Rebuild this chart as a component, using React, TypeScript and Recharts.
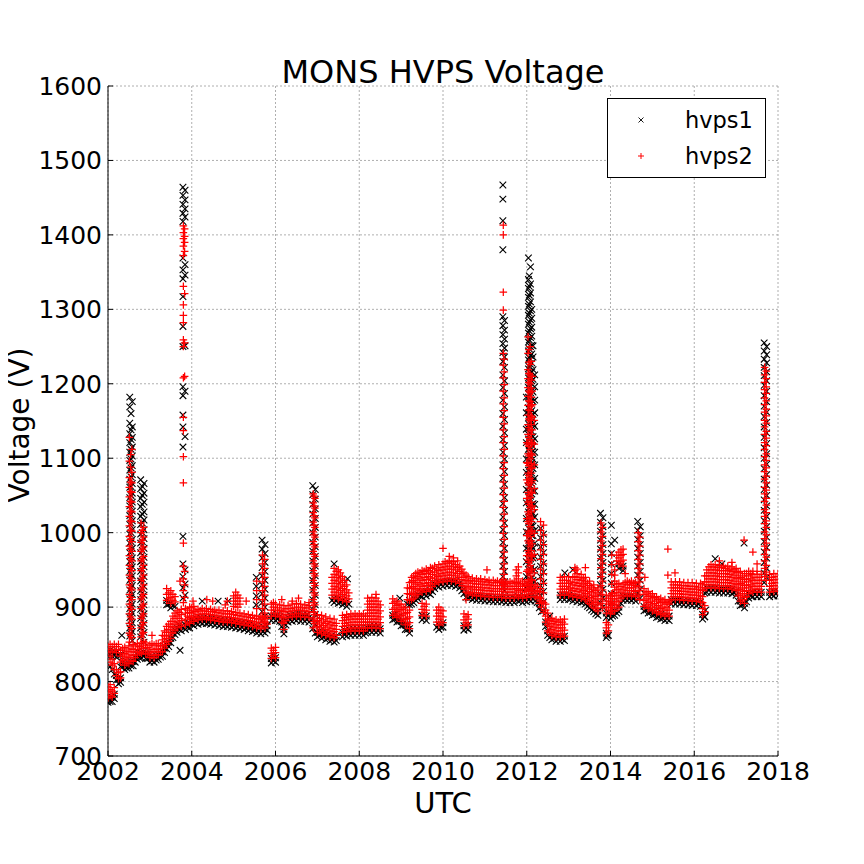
import React from 'react';
import { ScatterChart, Scatter, XAxis, YAxis, CartesianGrid, Legend } from 'recharts';

const FONT = 'DejaVu Sans';

const xTicks = [2002, 2004, 2006, 2008, 2010, 2012, 2014, 2016, 2018];
const yTicks = [700, 800, 900, 1000, 1100, 1200, 1300, 1400, 1500, 1600];

// rows: [time (decimal year), voltage, voltage, ...]
const hvps1Band: number[][] = [
  [2002.0, 772, 778, 834, 840], [2002.05, 773, 779, 820, 836, 842], [2002.1, 773, 779, 816, 834, 840],
  [2002.15, 777, 783, 810, 835], [2002.2, 802, 808, 833, 839], [2002.25, 797, 803, 835], [2002.3, 799, 805, 820, 835],
  [2002.35, 820, 826], [2002.4, 816, 822], [2002.45, 818, 824], [2002.5, 818, 824], [2002.55, 821, 827],
  [2002.6, 821, 827], [2002.65, 826, 832], [2002.7, 830, 836], [2002.75, 832, 838], [2002.8, 832, 838],
  [2002.85, 834, 840], [2002.9, 831, 837], [2002.95, 831, 837], [2003.0, 826, 832], [2003.05, 828, 834],
  [2003.1, 826, 832], [2003.15, 829, 835], [2003.2, 830, 836], [2003.25, 833, 839], [2003.3, 834, 840],
  [2003.35, 839, 845], [2003.4, 844, 850, 903, 909], [2003.45, 847, 853, 904], [2003.5, 852, 858, 899, 905],
  [2003.55, 859, 865, 902], [2003.6, 863, 869, 901], [2003.65, 866, 872], [2003.7, 870, 876], [2003.75, 868, 874],
  [2003.85, 870, 876], [2003.9, 873, 879], [2003.95, 872, 878], [2004.0, 877, 883], [2004.05, 875, 881],
  [2004.1, 879, 885], [2004.15, 877, 883], [2004.2, 880, 886], [2004.25, 878, 884], [2004.3, 880, 886],
  [2004.35, 878, 884], [2004.4, 879, 885], [2004.45, 877, 883], [2004.5, 879, 885], [2004.55, 876, 882],
  [2004.6, 878, 884], [2004.65, 875, 881], [2004.7, 877, 883], [2004.75, 874, 880], [2004.8, 876, 882],
  [2004.85, 874, 880], [2004.9, 876, 882], [2004.95, 873, 879], [2005.0, 875, 881], [2005.05, 872, 878],
  [2005.1, 874, 880], [2005.15, 871, 877], [2005.2, 873, 879], [2005.25, 870, 876], [2005.3, 872, 878],
  [2005.35, 868, 874], [2005.4, 871, 877], [2005.45, 867, 873], [2005.5, 869, 875], [2005.55, 865, 871],
  [2005.6, 867, 873], [2005.65, 864, 870], [2005.7, 867, 873], [2005.75, 865, 871], [2005.8, 869, 875],
  [2005.9, 825, 831, 882, 888], [2005.95, 828, 834, 885], [2006.0, 826, 832, 882, 888], [2006.05, 884, 890],
  [2006.1, 881, 887], [2006.15, 874, 880], [2006.2, 864, 870], [2006.25, 876, 882], [2006.3, 880, 886],
  [2006.35, 883, 889], [2006.4, 881, 887], [2006.45, 884, 890], [2006.5, 882, 888], [2006.55, 885, 891],
  [2006.6, 881, 887], [2006.65, 884, 890], [2006.7, 881, 887], [2006.75, 884, 890], [2006.8, 880, 886],
  [2007.0, 860, 866], [2007.05, 862, 868], [2007.1, 858, 864], [2007.15, 860, 866], [2007.2, 856, 862],
  [2007.25, 858, 864], [2007.3, 854, 860], [2007.35, 856, 862, 909], [2007.4, 853, 859, 906, 912],
  [2007.45, 855, 861, 909], [2007.5, 905, 911], [2007.55, 907], [2007.6, 860, 866, 903, 909],
  [2007.65, 863, 869, 905], [2007.7, 861, 867, 901, 907], [2007.75, 864, 870, 904], [2007.8, 862, 868],
  [2007.85, 865, 871], [2007.9, 862, 868], [2007.95, 865, 871], [2008.0, 862, 868], [2008.05, 865, 871],
  [2008.1, 862, 868], [2008.15, 865, 871], [2008.2, 866, 872], [2008.25, 869, 875], [2008.3, 866, 872],
  [2008.35, 869, 875], [2008.4, 866, 872], [2008.45, 869, 875], [2008.5, 865, 871], [2008.8, 883, 889],
  [2008.85, 884, 890], [2008.9, 880, 886], [2008.95, 881, 887], [2009.0, 875, 881], [2009.05, 876, 882],
  [2009.1, 870, 876], [2009.15, 870, 876, 904], [2009.2, 865, 871, 903, 909], [2009.25, 904], [2009.3, 906, 912],
  [2009.35, 909], [2009.4, 911, 917], [2009.45, 915], [2009.5, 883, 889, 914, 920], [2009.55, 886, 918],
  [2009.6, 882, 888, 915, 921], [2009.65, 919], [2009.7, 917, 923], [2009.75, 921], [2009.8, 925, 931],
  [2009.85, 873, 929], [2009.9, 870, 876, 927, 933], [2009.95, 873, 931], [2010.0, 873, 879, 928, 934],
  [2010.05, 931], [2010.1, 929, 935], [2010.15, 932], [2010.2, 929, 935], [2010.25, 931], [2010.3, 928, 934],
  [2010.35, 930], [2010.4, 926, 932], [2010.45, 922], [2010.5, 869, 875, 918, 924], [2010.55, 872, 913],
  [2010.6, 870, 876, 912, 918], [2010.65, 913], [2010.7, 910, 916], [2010.75, 912], [2010.8, 909, 915],
  [2010.85, 912], [2010.9, 909, 915], [2010.95, 911], [2011.0, 908, 914], [2011.05, 911], [2011.1, 908, 914],
  [2011.15, 910], [2011.2, 907, 913], [2011.25, 910], [2011.3, 907, 913], [2011.35, 910], [2011.4, 907, 913],
  [2011.45, 909], [2011.5, 906, 912], [2011.55, 909], [2011.6, 906, 912], [2011.65, 909], [2011.7, 906, 912],
  [2011.75, 910], [2011.8, 908, 914], [2011.85, 909], [2011.9, 906, 912], [2011.95, 909], [2012.0, 907, 913],
  [2012.05, 910], [2012.1, 908, 914], [2012.15, 911], [2012.2, 908, 914], [2012.25, 906], [2012.3, 899, 905],
  [2012.35, 894], [2012.45, 874, 880], [2012.5, 862, 868], [2012.55, 859], [2012.6, 856, 862], [2012.65, 858],
  [2012.7, 854, 860], [2012.75, 857], [2012.8, 854, 860, 910, 916], [2012.85, 857, 913], [2012.9, 855, 861, 910, 916],
  [2012.95, 913], [2013.0, 910, 916], [2013.05, 911], [2013.1, 908, 914], [2013.15, 910], [2013.2, 907, 913],
  [2013.25, 909], [2013.3, 906, 912], [2013.35, 907], [2013.4, 904, 910], [2013.45, 901], [2013.5, 899, 905],
  [2013.55, 896], [2013.6, 894, 900], [2013.65, 891], [2013.7, 889, 895], [2013.9, 859, 865, 886, 892],
  [2013.95, 862, 889], [2014.0, 885, 891], [2014.05, 888], [2014.1, 889, 895], [2014.15, 892],
  [2014.2, 894, 900, 952, 958], [2014.25, 905, 955], [2014.3, 909, 915, 949, 955], [2014.35, 911],
  [2014.4, 909, 915], [2014.45, 911], [2014.5, 909, 915], [2014.55, 911], [2014.6, 908, 914], [2014.8, 895, 901],
  [2014.85, 896], [2014.9, 892, 898], [2014.95, 893], [2015.0, 889, 895], [2015.05, 890], [2015.1, 886, 892],
  [2015.15, 887], [2015.2, 884, 890], [2015.25, 885], [2015.3, 882, 888], [2015.35, 884], [2015.4, 882, 888],
  [2015.45, 904, 910], [2015.5, 907], [2015.55, 904, 910], [2015.6, 907], [2015.65, 904, 910], [2015.7, 906],
  [2015.75, 903, 909], [2015.8, 906], [2015.85, 903, 909], [2015.9, 905], [2015.95, 902, 908], [2016.0, 905],
  [2016.05, 902, 908], [2016.1, 904], [2016.15, 901, 907], [2016.2, 884, 890], [2016.25, 887, 919],
  [2016.3, 920, 926], [2016.35, 923], [2016.4, 920, 926], [2016.45, 923], [2016.5, 920, 926], [2016.55, 922],
  [2016.6, 919, 925], [2016.65, 922], [2016.7, 919, 925], [2016.75, 922], [2016.8, 919, 925], [2016.85, 921],
  [2016.9, 918, 924], [2016.95, 920], [2017.0, 916, 922], [2017.05, 908], [2017.1, 902, 908], [2017.15, 903],
  [2017.2, 899, 905], [2017.25, 907], [2017.3, 912, 918], [2017.35, 915], [2017.4, 914, 920], [2017.45, 917],
  [2017.5, 914, 920], [2017.55, 917], [2017.6, 914, 920], [2017.8, 914, 920], [2017.85, 917], [2017.9, 915, 921],
  [2017.95, 918], [2018.0, 915, 921],
];

const hvps1Spikes: number[][] = [
  [2002.52, 1182, 1169, 1147, 1133, 1121, 1108, 1097, 1084, 1072, 1061, 1047, 1036, 1023, 1011, 998, 986, 973, 961, 948, 936, 923, 911, 898, 886, 872, 861],
  [2002.55, 1160, 1138, 1125, 1112, 1099, 1087, 1075, 1062, 1050, 1038, 1025, 1013, 1000, 988, 975, 963, 951, 938, 926, 913, 901, 888, 876, 864],
  [2002.58, 1176, 1142, 1128, 1115, 1103, 1090, 1078, 1066, 1053, 1041, 1029, 1016, 1004, 991, 979, 966, 954, 942, 929, 917, 904, 892, 879, 867, 855],
  [2002.78, 1071, 1059, 1046, 1035, 1022, 1011, 998, 986, 973, 961, 948, 935, 922, 910, 897, 885, 872, 860],
  [2002.82, 1062, 1050, 1038, 1025, 1013, 1000, 988, 976, 963, 951, 938, 925, 913, 900, 888, 875, 863],
  [2002.86, 1066, 1053, 1041, 1028, 1017, 1004, 992, 979, 967, 954, 941, 928, 916, 903, 891, 878, 866, 853],
  [2003.79, 1464, 1453, 1441, 1429, 1418, 1369, 1353, 1341, 1317, 1277, 1250, 1196, 1184, 1158, 1142, 1115, 995, 958, 941, 926, 912],
  [2003.84, 1460, 1447, 1435, 1424, 1360, 1346, 1251, 1190, 1129, 950, 931, 916],
  [2005.54, 940, 928, 915, 903],
  [2005.68, 990, 978, 966, 953, 942, 930, 918, 906, 894, 882],
  [2005.75, 984, 972, 960, 948, 936, 924, 912, 900, 888, 876],
  [2006.89, 1063, 1051, 1038, 1025, 1013, 1000, 987, 975, 962, 949, 936, 923, 910, 897, 884, 871],
  [2006.95, 1058, 1045, 1032, 1019, 1007, 994, 981, 968, 955, 942, 929, 916, 903, 890, 877, 865],
  [2011.43, 1467, 1448, 1419, 1380, 1290, 1278, 1266, 1254, 1242, 1230, 1212, 1195, 1178, 1160, 1143, 1125, 1108, 1091, 1073, 1056, 1039, 1021, 1004, 987, 971, 955, 941, 928],
  [2011.47, 1285, 1272, 1260, 1248, 1236, 1222, 1204, 1187, 1169, 1152, 1134, 1117, 1099, 1082, 1065, 1047, 1030, 1013, 996, 979, 963, 948, 934, 922],
  [2011.99, 1182, 1161, 1139, 1121, 1099, 1081, 1058, 1040, 1019, 1001, 979, 961, 941, 926],
  [2012.04, 1369, 1340, 1328, 1316, 1304, 1292, 1280, 1268, 1256, 1244, 1232, 1220, 1208, 1195, 1182, 1168, 1154, 1140, 1126, 1112, 1098, 1084, 1070, 1056, 1042, 1028, 1014, 1000, 986, 972, 958, 944, 930],
  [2012.06, 1345, 1331, 1319, 1307, 1295, 1283, 1271, 1259, 1247, 1235, 1223, 1211, 1199, 1186, 1173, 1159, 1145, 1131, 1117, 1103, 1089, 1075, 1061, 1047, 1033, 1019, 1005, 991, 977, 963, 949, 935],
  [2012.09, 1357, 1334, 1322, 1310, 1298, 1286, 1274, 1262, 1250, 1238, 1226, 1214, 1201, 1188, 1175, 1161, 1147, 1133, 1119, 1105, 1091, 1077, 1063, 1049, 1035, 1021, 1007, 993, 979, 965, 951, 937, 925],
  [2012.12, 1300, 1288, 1276, 1264, 1252, 1240, 1228, 1216, 1204, 1191, 1178, 1164, 1150, 1136, 1122, 1108, 1094, 1080, 1066, 1052, 1038, 1024, 1010, 996, 982, 968, 954, 940, 927],
  [2012.15, 1251, 1236, 1219, 1206, 1189, 1176, 1159, 1146, 1129, 1116, 1099, 1086, 1069, 1056, 1039, 1026, 1009, 996, 979, 966, 949, 936, 922],
  [2012.19, 1212, 1196, 1178, 1161, 1143, 1126, 1108, 1091, 1073, 1056, 1038, 1021, 1003, 986, 968, 951, 934],
  [2012.33, 1006, 993, 981, 967, 955, 941, 929, 915, 903],
  [2012.4, 998, 985, 973, 959, 947, 933, 921, 907, 895],
  [2013.76, 1026, 1014, 1002, 990, 978, 966, 954, 942, 930, 918, 906],
  [2013.82, 1020, 1008, 996, 984, 972, 960, 948, 936, 924, 912, 900],
  [2014.02, 1010, 985, 972, 958, 945, 932, 918, 905],
  [2014.65, 1015, 1003, 991, 979, 967, 955, 943, 931, 919],
  [2014.71, 1008, 996, 984, 972, 960, 948, 936, 924, 912],
  [2017.67, 1255, 1244, 1233, 1222, 1211, 1198, 1184, 1170, 1156, 1142, 1128, 1114, 1100, 1086, 1072, 1058, 1044, 1030, 1016, 1002, 988, 974, 960, 946, 933],
  [2017.73, 1250, 1239, 1228, 1216, 1204, 1190, 1176, 1162, 1148, 1134, 1120, 1106, 1092, 1078, 1064, 1050, 1036, 1022, 1008, 994, 980, 966, 952, 940],
];

const hvps1Outliers: number[][] = [
  [2002.33, 862], [2003.72, 842], [2004.25, 908], [2004.63, 908], [2004.87, 908], [2007.4, 958],
  [2007.72, 938], [2008.97, 912], [2012.55, 888], [2012.91, 946], [2013.1, 950], [2013.92, 862],
  [2016.25, 887], [2016.27, 896], [2016.5, 965], [2016.66, 958], [2017.19, 986], [2014.1, 990],
];

const hvps2Band: number[][] = [
  [2002.0, 778, 786, 793, 840, 847], [2002.05, 781, 789, 796, 826, 834, 843, 850], [2002.1, 779, 787, 822, 830, 840, 847],
  [2002.15, 784, 792, 816, 824, 843, 850], [2002.2, 808, 816, 839, 847], [2002.25, 804, 812, 842, 850],
  [2002.3, 805, 813, 826, 834, 842], [2002.35, 828, 836, 844], [2002.4, 822, 830, 838, 846], [2002.45, 825, 833, 841],
  [2002.5, 824, 832, 840, 848], [2002.55, 828, 836, 844], [2002.6, 827, 835, 843, 850], [2002.65, 832, 840, 848],
  [2002.7, 836, 843, 851], [2002.75, 839, 847], [2002.8, 838, 845, 852], [2002.85, 841, 849], [2002.9, 837, 845, 852],
  [2002.95, 838, 846], [2003.0, 832, 840, 849], [2003.05, 835, 843, 851], [2003.1, 832, 840, 849], [2003.15, 836, 844, 851],
  [2003.2, 836, 843, 851], [2003.25, 840, 848], [2003.3, 840, 848, 856, 862], [2003.35, 845, 853, 861, 868],
  [2003.4, 850, 858, 866, 874, 909, 917, 925], [2003.45, 854, 862, 870, 877, 911, 919], [2003.5, 858, 866, 874, 881, 905, 913, 922],
  [2003.55, 865, 873, 881, 888, 909, 917], [2003.6, 869, 877, 885, 892, 907, 914], [2003.65, 872, 880, 888, 895],
  [2003.7, 877, 885, 893], [2003.75, 874, 882, 890, 897], [2003.85, 876, 884, 892, 898], [2003.9, 880, 888, 896],
  [2003.95, 878, 886, 893, 900], [2004.0, 884, 892, 899], [2004.05, 881, 888, 895, 901], [2004.1, 886, 894],
  [2004.15, 883, 890, 897], [2004.2, 887, 895], [2004.25, 884, 891, 898], [2004.3, 887, 895], [2004.35, 884, 891, 898],
  [2004.4, 886, 894], [2004.45, 883, 890, 897], [2004.5, 886, 894], [2004.55, 882, 889, 896], [2004.6, 885, 893],
  [2004.65, 881, 888, 896], [2004.7, 884, 892], [2004.75, 880, 887, 895], [2004.8, 883, 891, 903],
  [2004.85, 880, 887, 895, 908], [2004.9, 883, 891], [2004.95, 879, 886, 894], [2005.0, 882, 890, 901, 908, 915],
  [2005.05, 878, 885, 893, 904, 912, 920], [2005.1, 881, 889, 900, 908, 916], [2005.15, 877, 884, 892, 904, 912],
  [2005.2, 880, 888], [2005.25, 876, 883, 891], [2005.3, 879, 887], [2005.35, 875, 882, 890], [2005.4, 878, 886],
  [2005.45, 874, 881, 889], [2005.5, 877, 885], [2005.55, 872, 880, 888], [2005.6, 875, 884], [2005.65, 871, 879, 888],
  [2005.7, 875, 883], [2005.75, 872, 880, 888], [2005.8, 877, 885], [2005.9, 831, 838, 845, 888, 896, 904],
  [2005.95, 835, 842, 892, 900], [2006.0, 832, 839, 846, 888, 896, 904], [2006.05, 891, 899], [2006.1, 887, 895, 903],
  [2006.15, 880, 888, 896], [2006.2, 870, 878, 886, 894, 902], [2006.25, 882, 890, 898], [2006.3, 886, 894, 902],
  [2006.35, 890, 898], [2006.4, 887, 895, 904], [2006.45, 891, 899], [2006.5, 888, 896, 905], [2006.55, 892, 900],
  [2006.6, 887, 896, 904], [2006.65, 891, 899], [2006.7, 887, 895, 903], [2006.75, 891, 899], [2006.8, 886, 894, 902],
  [2007.0, 866, 874, 882, 890], [2007.05, 869, 877, 885], [2007.1, 864, 872, 880, 889], [2007.15, 867, 875, 883],
  [2007.2, 862, 870, 878, 887], [2007.25, 865, 873, 881], [2007.3, 860, 868, 876, 885],
  [2007.35, 863, 871, 879, 916, 924, 932, 940], [2007.4, 859, 867, 875, 884, 912, 920, 928, 936, 944, 952],
  [2007.45, 862, 870, 878, 916, 924, 932, 940, 948], [2007.5, 911, 919, 927, 935, 943, 950], [2007.55, 914, 922, 930, 938, 946],
  [2007.6, 866, 874, 882, 889, 909, 917, 925, 933, 941], [2007.65, 870, 878, 886, 912, 920, 928, 936],
  [2007.7, 867, 875, 883, 890, 907, 915, 923, 930], [2007.75, 871, 879, 887, 911, 919], [2007.8, 868, 876, 884, 891],
  [2007.85, 872, 880, 888], [2007.9, 868, 876, 884, 891], [2007.95, 872, 880, 888], [2008.0, 868, 876, 884, 891],
  [2008.05, 872, 880, 888], [2008.1, 868, 876, 884, 891], [2008.15, 872, 880, 888], [2008.2, 872, 880, 888, 896, 904, 912],
  [2008.25, 876, 884, 892, 900, 908], [2008.3, 872, 880, 888, 896, 904, 913], [2008.35, 876, 884, 892, 900, 908],
  [2008.4, 872, 880, 888, 896, 904, 912], [2008.45, 876, 884, 892, 900, 908], [2008.5, 871, 879, 887, 895, 903],
  [2008.8, 889, 897, 905, 911], [2008.85, 891, 899, 907], [2008.9, 886, 894, 902, 908], [2008.95, 888, 896, 904],
  [2009.0, 881, 889, 897, 904], [2009.05, 883, 891, 899], [2009.1, 876, 884, 892, 900], [2009.15, 877, 885, 893, 910, 918, 926],
  [2009.2, 871, 879, 887, 896, 909, 917, 925, 933], [2009.25, 910, 918, 926, 934, 940], [2009.3, 912, 920, 928, 936, 942],
  [2009.35, 915, 923, 931, 939, 945], [2009.4, 917, 925, 933, 941, 947], [2009.45, 922, 930, 938, 946],
  [2009.5, 889, 897, 905, 920, 928, 936, 944, 949], [2009.55, 893, 901, 924, 932, 940, 948],
  [2009.6, 888, 896, 904, 921, 929, 937, 945, 951], [2009.65, 925, 933, 941, 949], [2009.7, 923, 931, 939, 947, 953],
  [2009.75, 928, 936, 944, 952], [2009.8, 931, 939, 947, 955], [2009.85, 880, 888, 896, 935, 943, 951],
  [2009.9, 876, 884, 892, 900, 933, 941, 949, 957], [2009.95, 880, 888, 896, 937, 945, 953],
  [2010.0, 879, 887, 895, 934, 942, 950, 958], [2010.05, 938, 946, 954, 961], [2010.1, 935, 943, 951, 959],
  [2010.15, 939, 947, 955, 962], [2010.2, 935, 943, 951, 959], [2010.25, 938, 946, 954, 961], [2010.3, 934, 942, 950, 957],
  [2010.35, 937, 945, 953], [2010.4, 932, 940, 948, 955], [2010.45, 929, 937, 945, 951], [2010.5, 875, 883, 891, 924, 932, 940, 946],
  [2010.55, 879, 887, 920, 928, 936, 943], [2010.6, 876, 884, 890, 918, 926, 934, 941], [2010.65, 920, 928, 936],
  [2010.7, 916, 924, 932, 939], [2010.75, 919, 927, 935], [2010.8, 915, 923, 931, 938], [2010.85, 919, 927, 935],
  [2010.9, 915, 923, 931, 938], [2010.95, 918, 926, 934], [2011.0, 914, 922, 930, 937], [2011.05, 918, 926, 934],
  [2011.1, 914, 922, 930, 936], [2011.15, 917, 925, 933], [2011.2, 913, 921, 929, 936], [2011.25, 917, 925, 933],
  [2011.3, 913, 921, 929, 935], [2011.35, 917, 925, 933], [2011.4, 913, 921, 929, 935], [2011.45, 916, 924, 932],
  [2011.5, 912, 920, 928, 934], [2011.55, 916, 924, 932], [2011.6, 912, 920, 928, 934], [2011.65, 916, 924, 932],
  [2011.7, 912, 920, 928, 935], [2011.75, 917, 925, 933, 942, 950], [2011.8, 914, 922, 930, 938, 946, 954],
  [2011.85, 916, 924, 932], [2011.9, 912, 920, 928, 935], [2011.95, 916, 924, 932], [2012.0, 913, 921, 929],
  [2012.05, 917, 925], [2012.1, 914, 922, 930], [2012.15, 918, 926], [2012.2, 914, 922, 930], [2012.25, 912, 920, 928],
  [2012.3, 905, 913, 921], [2012.35, 900, 908], [2012.45, 880, 888, 896, 904], [2012.5, 868, 876, 884, 892],
  [2012.55, 866, 874, 882], [2012.6, 862, 870, 878, 885], [2012.65, 865, 873, 881], [2012.7, 860, 868, 876, 883],
  [2012.75, 864, 872, 880], [2012.8, 860, 868, 876, 883, 916, 924, 932, 940], [2012.85, 864, 872, 880, 920, 928, 936],
  [2012.9, 861, 869, 877, 884, 916, 924, 932, 941], [2012.95, 920, 928, 936], [2013.0, 916, 924, 932, 941],
  [2013.05, 918, 926, 934], [2013.1, 914, 922, 930, 940], [2013.15, 917, 925, 933, 941, 949],
  [2013.2, 913, 921, 929, 937, 945, 951], [2013.25, 916, 924, 932, 940], [2013.3, 912, 920, 928, 936, 944],
  [2013.35, 914, 922, 930, 938], [2013.4, 910, 918, 926, 934, 940], [2013.45, 908, 916, 924, 932],
  [2013.5, 905, 913, 921, 929, 935], [2013.55, 903, 911, 919, 927], [2013.6, 900, 908, 916, 924, 930],
  [2013.65, 898, 906, 914, 922], [2013.7, 895, 903, 911, 919, 926], [2013.9, 865, 872, 879, 892, 900, 908, 916],
  [2013.95, 868, 876, 896, 904, 912], [2014.0, 891, 899, 907, 915], [2014.05, 895, 903, 911, 919],
  [2014.1, 895, 903, 911, 919, 927, 935, 943, 950], [2014.15, 899, 907, 915, 923, 931, 962, 970],
  [2014.2, 900, 908, 916, 924, 932, 958, 966, 974], [2014.25, 912, 920, 928, 961, 969, 977],
  [2014.3, 915, 923, 931, 955, 963, 971, 978], [2014.35, 918, 926, 933], [2014.4, 915, 922, 930, 935],
  [2014.45, 918, 926, 933], [2014.5, 915, 922, 930, 935], [2014.55, 918, 926, 932], [2014.6, 914, 921, 929, 933],
  [2014.8, 901, 909, 917, 925], [2014.85, 903, 911, 919], [2014.9, 898, 906, 914, 921], [2014.95, 900, 908, 916],
  [2015.0, 895, 903, 911, 918], [2015.05, 897, 905, 913], [2015.1, 892, 900, 908, 914], [2015.15, 894, 902, 910],
  [2015.2, 890, 898, 906, 912], [2015.25, 892, 900, 908], [2015.3, 888, 896, 904, 910], [2015.35, 891, 899, 906],
  [2015.4, 888, 896, 904, 908], [2015.45, 910, 918, 926, 934], [2015.5, 914, 922, 930], [2015.55, 910, 918, 926, 934],
  [2015.6, 914, 922, 930], [2015.65, 910, 918, 926, 934], [2015.7, 913, 921, 929], [2015.75, 909, 917, 925, 933],
  [2015.8, 913, 921, 929], [2015.85, 909, 917, 925, 933], [2015.9, 912, 920, 928], [2015.95, 908, 916, 924, 933],
  [2016.0, 912, 920, 928], [2016.05, 908, 916, 924, 932], [2016.1, 911, 919, 927], [2016.15, 907, 915, 923, 932],
  [2016.2, 890, 898, 906, 914, 922, 930], [2016.25, 894, 902, 926, 934, 942], [2016.3, 926, 934, 942, 950],
  [2016.35, 930, 938, 946, 954], [2016.4, 926, 934, 942, 950, 957], [2016.45, 930, 938, 946, 954],
  [2016.5, 926, 934, 942, 950, 957], [2016.55, 929, 937, 945, 953], [2016.6, 925, 933, 941, 949, 956],
  [2016.65, 929, 937, 945, 953], [2016.7, 925, 933, 941, 949, 955], [2016.75, 929, 937, 945, 952],
  [2016.8, 925, 933, 941, 949, 955], [2016.85, 928, 936, 944, 951], [2016.9, 924, 932, 940, 948, 954],
  [2016.95, 927, 935, 943, 950], [2017.0, 922, 930, 938, 946, 952], [2017.05, 915, 923, 931, 939, 947],
  [2017.1, 908, 916, 924, 932, 940, 948], [2017.15, 910, 918, 926, 934, 942], [2017.2, 905, 913, 921, 929, 937, 945],
  [2017.25, 914, 922, 930, 938, 945], [2017.3, 918, 926, 934, 942, 948], [2017.35, 922, 930, 938, 945],
  [2017.4, 920, 928, 936, 944, 948], [2017.45, 924, 932, 940], [2017.5, 920, 928, 936, 944, 948],
  [2017.55, 924, 932, 940], [2017.6, 920, 928, 936, 944], [2017.8, 920, 928, 936, 944], [2017.85, 924, 932, 940],
  [2017.9, 921, 929, 937, 945], [2017.95, 925, 933, 941], [2018.0, 921, 929, 937, 945],
];

const hvps2Spikes: number[][] = [
  [2002.51, 1128, 1096, 1074, 1061, 1048, 1035, 1022, 1009, 995, 982, 969, 956, 943, 930, 917, 904, 891, 878, 865, 853],
  [2002.54, 1105, 1088, 1068, 1055, 1042, 1029, 1016, 1003, 991, 978, 965, 952, 939, 926, 913, 900, 887, 874, 862],
  [2002.57, 1112, 1081, 1067, 1054, 1041, 1028, 1015, 1002, 988, 975, 962, 949, 936, 923, 910, 897, 884, 871, 859],
  [2002.79, 1013, 1000, 987, 975, 962, 949, 936, 923, 911, 898, 885, 872, 860],
  [2002.82, 1003, 990, 978, 965, 952, 939, 926, 914, 901, 888, 876, 864],
  [2002.85, 1007, 994, 981, 968, 956, 943, 930, 917, 904, 891, 879, 866, 854],
  [2003.8, 1412, 1403, 1395, 1385, 1372, 1331, 1306, 1292, 1282, 1259, 1250, 1208, 1155, 1137, 1102, 1067, 986, 955, 938, 922, 906],
  [2003.83, 1408, 1398, 1390, 1378, 1321, 1255, 1210, 948, 930, 913],
  [2005.55, 935, 922, 910, 898],
  [2005.69, 970, 958, 946, 934, 922, 910, 898, 886],
  [2005.74, 964, 952, 940, 928, 916, 904, 892, 880],
  [2006.9, 1052, 1040, 1027, 1014, 1001, 988, 975, 962, 949, 936, 923, 910, 897, 884, 872],
  [2006.92, 1049, 1036, 1023, 1010, 997, 984, 971, 958, 945, 932, 919, 906, 893, 881],
  [2006.94, 1046, 1033, 1020, 1007, 994, 981, 968, 955, 942, 929, 916, 903, 890, 878],
  [2011.44, 1413, 1400, 1323, 1299, 1241, 1225, 1208, 1190, 1173, 1155, 1138, 1121, 1103, 1086, 1068, 1051, 1034, 1016, 999, 982, 966, 951, 937, 925],
  [2011.46, 1233, 1216, 1199, 1181, 1164, 1146, 1129, 1112, 1094, 1077, 1060, 1042, 1025, 1008, 991, 974, 958, 944, 930],
  [2012.0, 1121, 1094, 1071, 1046, 1019, 996, 969, 948, 931],
  [2012.03, 1263, 1241, 1219, 1207, 1195, 1183, 1171, 1158, 1145, 1132, 1119, 1106, 1093, 1080, 1067, 1054, 1041, 1028, 1015, 1002, 989, 976, 963, 950, 937, 925],
  [2012.05, 1246, 1229, 1214, 1202, 1190, 1177, 1165, 1153, 1141, 1128, 1116, 1103, 1090, 1077, 1064, 1051, 1038, 1025, 1012, 999, 986, 973, 960, 947, 934, 922],
  [2012.08, 1250, 1226, 1212, 1200, 1188, 1176, 1164, 1151, 1138, 1125, 1112, 1099, 1086, 1073, 1060, 1047, 1034, 1021, 1008, 995, 982, 969, 956, 943, 930],
  [2012.11, 1230, 1205, 1194, 1182, 1170, 1157, 1145, 1132, 1119, 1106, 1093, 1080, 1067, 1054, 1041, 1028, 1015, 1002, 989, 976, 963, 950, 937, 925],
  [2012.13, 1210, 1190, 1172, 1155, 1138, 1121, 1104, 1087, 1070, 1053, 1036, 1019, 1002, 985, 968, 951, 936, 922],
  [2012.18, 1151, 1119, 1091, 1059, 1031, 999, 971, 946],
  [2012.33, 1015, 1003, 990, 977, 964, 951, 938, 925, 912],
  [2012.4, 1010, 997, 984, 971, 958, 945, 932, 919, 906, 893],
  [2013.77, 1013, 1001, 989, 977, 965, 953, 941, 929, 917, 905],
  [2013.81, 1007, 995, 983, 971, 959, 947, 935, 923, 911, 899],
  [2014.03, 970, 957, 944, 931, 918, 905, 895],
  [2014.66, 1000, 988, 976, 964, 952, 940, 928, 916],
  [2014.7, 994, 982, 970, 958, 946, 934, 922, 910],
  [2017.68, 1222, 1212, 1202, 1192, 1181, 1172, 1162, 1151, 1142, 1132, 1121, 1112, 1102, 1091, 1082, 1072, 1061, 1052, 1042, 1031, 1022, 1012, 1001, 992, 982, 971, 962, 952, 941],
  [2017.72, 1217, 1207, 1196, 1187, 1177, 1166, 1157, 1147, 1136, 1127, 1117, 1106, 1097, 1087, 1076, 1067, 1057, 1046, 1037, 1027, 1016, 1007, 997, 986, 977, 967, 956, 947, 936],
];

const hvps2Outliers: number[][] = [
  [2003.05, 862], [2003.72, 935], [2004.03, 908], [2004.36, 910], [2004.5, 908], [2005.3, 908],
  [2005.95, 906], [2006.15, 910], [2006.4, 908], [2006.55, 912], [2006.8, 906], [2008.4, 917],
  [2010.0, 979], [2010.15, 968], [2010.25, 966], [2010.35, 962], [2010.55, 910], [2011.05, 950],
  [2013.15, 953], [2013.4, 953], [2014.35, 945], [2014.82, 940], [2015.37, 978], [2015.37, 943],
  [2015.54, 946], [2016.6, 962], [2016.9, 960], [2017.19, 990], [2017.4, 974], [2017.5, 958],
];

const toPoints = (rows: number[][]) =>
  rows.flatMap((r) => r.slice(1).map((v) => ({ t: r[0], v })));

const hvps1Data = toPoints([...hvps1Band, ...hvps1Spikes, ...hvps1Outliers]);
const hvps2Data = toPoints([...hvps2Band, ...hvps2Spikes, ...hvps2Outliers]);

const XMark = (props: any) => {
  const { cx, cy } = props;
  if (cx == null || cy == null) return <g />;
  const s = 3.3;
  return (
    <path
      d={`M${cx - s},${cy - s}L${cx + s},${cy + s}M${cx - s},${cy + s}L${cx + s},${cy - s}`}
      stroke="#000000"
      strokeWidth={1.1}
      fill="none"
    />
  );
};

const PlusMark = (props: any) => {
  const { cx, cy } = props;
  if (cx == null || cy == null) return <g />;
  const s = 3.8;
  return (
    <path
      d={`M${cx - s},${cy}L${cx + s},${cy}M${cx},${cy - s}L${cx},${cy + s}`}
      stroke="#ff0000"
      strokeWidth={1.25}
      fill="none"
    />
  );
};

const LeftTick = (p: any) => {
  const ax = p.x + 6;
  return (
    <g>
      <line x1={ax} y1={p.y} x2={ax + 5} y2={p.y} stroke="#000" strokeWidth={1} />
      <text x={p.x} y={p.y + 9} textAnchor="end" fontSize={25} fontFamily={FONT} fill="#000">
        {p.payload.value}
      </text>
    </g>
  );
};

const BottomTick = (p: any) => (
  <g>
    <line x1={p.x} y1={p.y} x2={p.x} y2={p.y - 5} stroke="#000" strokeWidth={1} />
    <text x={p.x} y={p.y + 24} textAnchor="middle" fontSize={25} fontFamily={FONT} fill="#000">
      {p.payload.value}
    </text>
  </g>
);

const TopTick = (p: any) => (
  <line x1={p.x} y1={p.y} x2={p.x} y2={p.y + 5} stroke="#000" strokeWidth={1} />
);

const RightTick = (p: any) => (
  <line x1={p.x} y1={p.y} x2={p.x - 5} y2={p.y} stroke="#000" strokeWidth={1} />
);

const LegendBox = () => (
  <div
    style={{
      position: 'relative',
      width: 159,
      height: 80,
      border: '1px solid #000',
      boxSizing: 'border-box',
      background: '#fff',
      fontFamily: FONT,
      fontSize: 22.5,
      color: '#000',
    }}
  >
    <svg width={20} height={80} style={{ position: 'absolute', left: 23, top: 0 }}>
      <path d="M7.5,18.5L12.5,23.5M7.5,23.5L12.5,18.5" stroke="#000" strokeWidth={0.9} fill="none" />
      <path d="M7,57L13,57M10,54L10,60" stroke="#ff0000" strokeWidth={1} fill="none" />
    </svg>
    <div style={{ position: 'absolute', left: 77, top: 6, lineHeight: '30px' }}>hvps1</div>
    <div style={{ position: 'absolute', left: 77, top: 42, lineHeight: '30px' }}>hvps2</div>
  </div>
);

export default function App() {
  return (
    <ScatterChart
      width={856}
      height={856}
      margin={{ top: 78, right: 86, bottom: 48, left: 0 }}
      style={{ background: '#fff' }}
    >
      <CartesianGrid stroke="#9a9a9a" strokeWidth={0.8} strokeDasharray="2 2" />
      <XAxis
        dataKey="t"
        type="number"
        domain={[2002, 2018]}
        ticks={xTicks}
        interval={0}
        allowDataOverflow
        height={60}
        tickSize={0}
        tickMargin={0}
        tickLine={false}
        axisLine={{ stroke: '#000', strokeWidth: 1 }}
        tick={<BottomTick />}
      />
      <XAxis
        xAxisId="top"
        orientation="top"
        type="number"
        domain={[2002, 2018]}
        ticks={xTicks}
        interval={0}
        allowDataOverflow
        height={0}
        tickSize={0}
        tickMargin={0}
        tickLine={false}
        axisLine={{ stroke: '#000', strokeWidth: 1 }}
        tick={<TopTick />}
      />
      <YAxis
        dataKey="v"
        type="number"
        domain={[700, 1600]}
        ticks={yTicks}
        interval={0}
        allowDataOverflow
        width={100}
        tickSize={0}
        tickMargin={6}
        tickLine={false}
        axisLine={{ stroke: '#000', strokeWidth: 1 }}
        tick={<LeftTick />}
      />
      <YAxis
        yAxisId="right"
        orientation="right"
        type="number"
        domain={[700, 1600]}
        ticks={yTicks}
        interval={0}
        allowDataOverflow
        width={0}
        tickSize={0}
        tickMargin={0}
        tickLine={false}
        axisLine={{ stroke: '#000', strokeWidth: 1 }}
        tick={<RightTick />}
      />
      <Scatter name="hvps1" data={hvps1Data} shape={XMark} isAnimationActive={false} />
      <Scatter name="hvps2" data={hvps2Data} shape={PlusMark} isAnimationActive={false} />
      <Legend
        layout="horizontal"
        verticalAlign="middle"
        align="center"
        content={() => <LegendBox />}
        wrapperStyle={{ left: 599, top: 90, width: 159, height: 80 }}
      />
      <text x={435} y={75} textAnchor="middle" fontSize={32} fontFamily={FONT} fill="#000">
        MONS HVPS Voltage
      </text>
      <text x={435} y={805} textAnchor="middle" fontSize={29} fontFamily={FONT} fill="#000">
        UTC
      </text>
      <text
        transform="rotate(-90)"
        x={-417}
        y={21}
        textAnchor="middle"
        fontSize={28}
        fontFamily={FONT}
        fill="#000"
      >
        Voltage (V)
      </text>
    </ScatterChart>
  );
}
